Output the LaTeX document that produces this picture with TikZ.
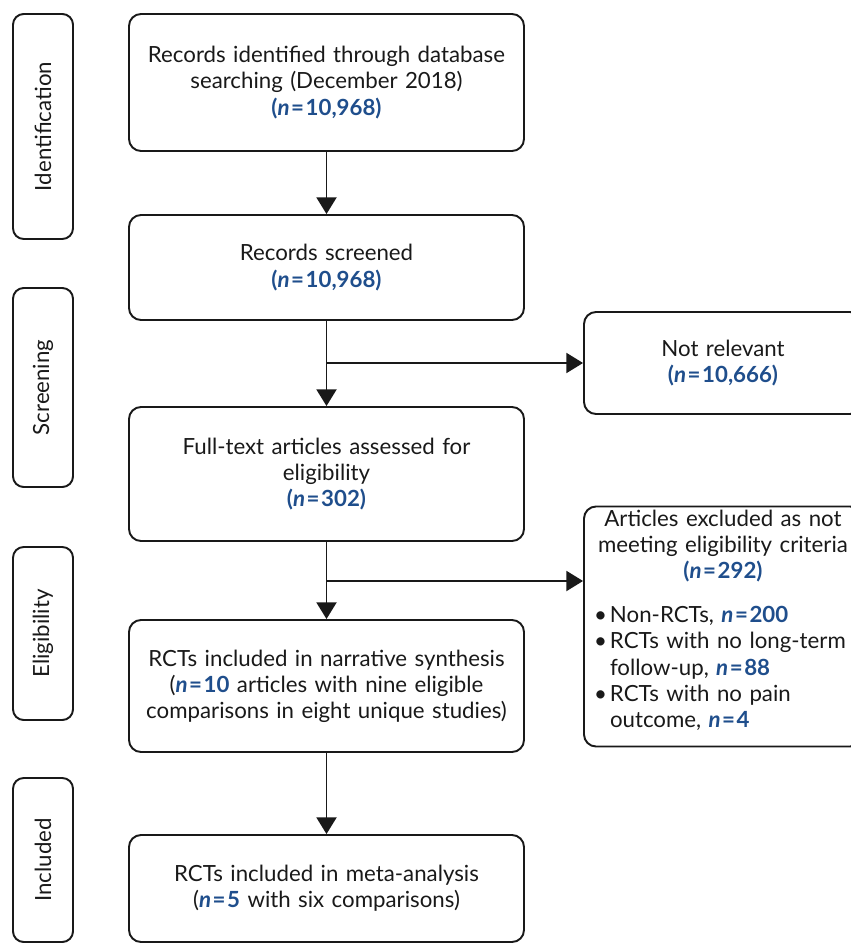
\documentclass[tikz,border=0pt]{standalone}
\usepackage{fontspec}
\setmainfont{Lato}
\usetikzlibrary{arrows.meta}
\definecolor{nblue}{RGB}{31,78,140}
\definecolor{ink}{RGB}{25,25,25}
\newcommand\nval[1]{{\bfseries\color{nblue}\textit{n}\hspace{1.2pt}=\hspace{1.2pt}#1}}
\newcommand\nparen[1]{{\bfseries\color{nblue}(\textit{n}\hspace{1.2pt}=\hspace{1.2pt}#1)}}
\newcommand\bitem[1]{\hangindent=12pt\hangafter=1\noindent\makebox[12pt][l]{\textbullet}#1\par}
\begin{document}
\begin{tikzpicture}[x=0.75pt,y=-0.75pt,
  box/.style={draw=ink, line width=1.45pt, rounded corners=9pt, align=center, inner sep=0pt,
    text=ink, font=\fontsize{16.7}{19.6}\selectfont},
  mainbox/.style={box, minimum width=296.25pt, text width=285pt},
  stagebox/.style={box, rounded corners=8pt, rotate=90, minimum height=45pt},
  sidebox/.style={box, minimum width=208.5pt},
  arr/.style={draw=ink, line width=1.45pt, -{Triangle[width=15pt,length=12.5pt]}}]
\useasboundingbox (0,0) rectangle (850,944);

% stage labels
\node[stagebox, minimum width=168.75pt] (sid) at (43,126.5) {Identification};
\node[stagebox, minimum width=149.25pt] (ssc) at (43,387.5) {Screening};
\node[stagebox, minimum width=129.75pt] (sel) at (43,633.5) {Eligibility};
\node[stagebox, minimum width=123pt] (sin) at (43,860) {Included};

% main column
\node[mainbox, minimum height=102.75pt] (b1) at (326.5,82.5)
  {Records identified through database\\searching (December 2018)\\\nparen{10,968}};
\node[mainbox, minimum height=78.75pt] (b2) at (326.5,267.5)
  {Records screened\\\nparen{10,968}};
\node[mainbox, minimum height=100.5pt] (b3) at (326.5,474)
  {Full-text articles assessed for\\eligibility\\\nparen{302}};
\node[mainbox, minimum height=99pt] (b4) at (326.5,686)
  {RCTs included in narrative synthesis\\(\nval{10} articles with nine eligible\\comparisons in eight unique studies)};
\node[mainbox, minimum height=80.25pt] (b5) at (326.5,888.5)
  {RCTs included in meta-analysis\\(\nval{5} with six comparisons)};

% side boxes
\node[sidebox, minimum height=76.5pt, text width=193.5pt] (nr) at (723,363)
  {Not relevant\\\nparen{10,666}};
\node[sidebox, minimum height=180pt, text width=193.5pt, align=left] (ex) at (723,626.5)
  {{\centering Articles excluded as not\\meeting eligibility criteria\\\nparen{292}\par}
   \vspace{13.5pt}
   \raggedright
   \bitem{Non-RCTs, \nval{200}}
   \bitem{RCTs with no long-term follow-up, \nval{88}}
   \bitem{RCTs with no pain outcome, \nval{4}}
   \vspace*{9.5pt}};

% connectors
\draw[arr] (b1.south) -- (b2.north);
\draw[arr] (b2.south) -- (b3.north);
\coordinate (j1) at (b2.south |- nr.west);
\draw[arr] (j1) -- (nr.west);
\draw[arr] (b3.south) -- (b4.north);
\coordinate (j2) at (326.5,581);
\draw[arr] (j2) -- (j2 -| ex.west);
\draw[arr] (b4.south) -- (b5.north);
\end{tikzpicture}
\end{document}
